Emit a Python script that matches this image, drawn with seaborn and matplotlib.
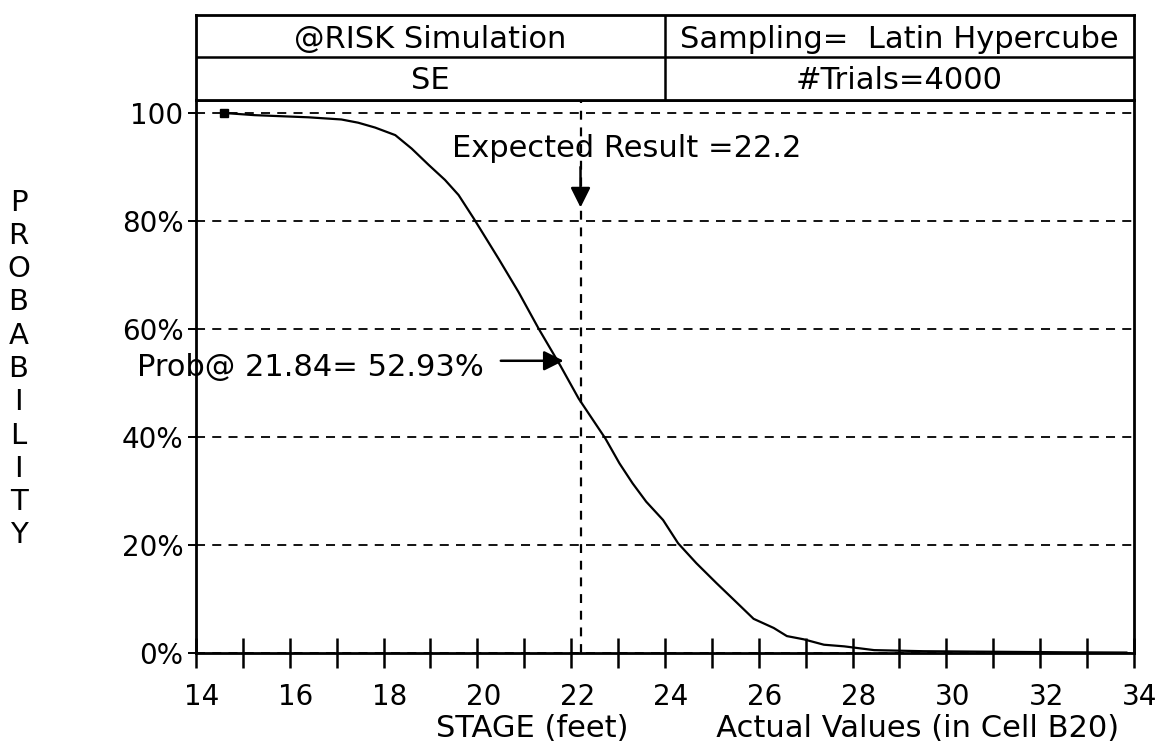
import matplotlib
matplotlib.use("Agg")
import matplotlib.pyplot as plt
import matplotlib.transforms as mtransforms
import seaborn as sns
import pandas as pd

# =============================================================================
# DATA (read off the @RISK cumulative curve)
# =============================================================================
stage = [14.6, 15.25, 16.4, 17.1, 17.46, 17.82, 18.25, 18.6, 18.96, 19.31,
         19.6, 19.92, 20.24, 20.46, 20.88, 21.31, 21.77, 22.16, 22.73, 23.03,
         23.31, 23.6, 23.96, 24.28, 24.67, 25.1, 25.46, 25.89, 26.32, 26.6,
         26.96, 27.39, 27.82, 28.46, 29.5, 31.0, 32.5, 33.85]
prob = [100, 99.6, 99.2, 98.8, 98.2, 97.3, 95.9, 93.4, 90.4, 87.6,
        84.8, 80.5, 76.0, 72.9, 66.8, 60.0, 53.2, 47.1, 39.7, 35.1,
        31.4, 28.0, 24.6, 20.3, 16.6, 12.9, 9.9, 6.3, 4.6, 3.1,
        2.5, 1.5, 1.2, 0.5, 0.3, 0.2, 0.1, 0.05]

x_ticks = list(range(14, 35))
x_labels = [str(v) if v % 2 == 0 else "" for v in x_ticks]
y_ticks = [0, 20, 40, 60, 80, 100]
y_labels = ["0%", "20%", "40%", "60%", "80%", "100"]

expected_x = 22.2
prob_x, prob_y = 21.84, 52.93

header_left = ["@RISK Simulation", "SE"]
header_right = ["Sampling=  Latin Hypercube", "#Trials=4000"]

df = pd.DataFrame({"stage": stage, "prob": prob})

# =============================================================================
# PLOT
# =============================================================================
sns.set_style("white")
plt.rcParams["font.family"] = ["DejaVu Sans"]
plt.rcParams["text.color"] = "black"
plt.rcParams["axes.labelcolor"] = "black"

TICK_SIZE = 20
TEXT_SIZE = 22

fig = plt.figure(figsize=(11.63, 7.41), dpi=100)
ax = fig.add_axes([0.1685, 0.119, 0.8065, 0.746])

sns.lineplot(data=df, x="stage", y="prob", ax=ax, color="black", linewidth=1.6)
ax.plot(stage[0], prob[0], marker="s", color="black", markersize=6)

ax.set_xlim(14, 34)
ax.set_ylim(0, 102.4)

for sp in ax.spines.values():
    sp.set_linewidth(2)
    sp.set_color("black")

ax.set_xticks(x_ticks)
ax.set_xticklabels(x_labels)
ax.tick_params(axis="x", bottom=True, direction="inout", length=22, width=1.8,
               pad=11, labelsize=TICK_SIZE, colors="black")
ax.set_yticks(y_ticks)
ax.set_yticklabels(y_labels)
ax.tick_params(axis="y", left=True, direction="out", length=6, width=1.4,
               pad=3, labelsize=TICK_SIZE, colors="black")

# plotter labels sit a little right of their ticks
shift = mtransforms.ScaledTranslation(6 / 100, 0, fig.dpi_scale_trans)
for lbl in ax.get_xticklabels():
    lbl.set_transform(lbl.get_transform() + shift)

ax.yaxis.grid(True, color="black", linestyle=(0, (5, 4)), linewidth=1.3)
ax.xaxis.grid(False)

ax.axvline(expected_x, color="black", linestyle=(0, (4, 3.5)), linewidth=1.6)

ax.set_xlabel("STAGE (feet)" + " " * 9 + "Actual Values (in Cell B20)",
              fontsize=TEXT_SIZE, labelpad=2, x=0.62)
ax.set_ylabel("")

# expected result annotation
ax.text(19.46, 93.5, f"Expected Result ={expected_x}", fontsize=TEXT_SIZE,
        ha="left", va="center")
ax.annotate("", xy=(expected_x, 82.5), xytext=(expected_x, 90),
            arrowprops=dict(arrowstyle="-|>", color="black", lw=1.8,
                            mutation_scale=30, shrinkA=0, shrinkB=0))

# probability annotation
ax.text(12.74, prob_y, f"Prob@ {prob_x}= {prob_y}%", fontsize=TEXT_SIZE,
        ha="left", va="center", clip_on=False)
ax.annotate("", xy=(prob_x, 54.1), xytext=(20.5, 54.1),
            arrowprops=dict(arrowstyle="-|>", color="black", lw=1.8,
                            mutation_scale=30, shrinkA=0, shrinkB=0))

# header table above the plot
hax = fig.add_axes([0.1685, 0.865, 0.8065, 0.115])
hax.set_xlim(0, 1)
hax.set_ylim(0, 2)
hax.set_xticks([])
hax.set_yticks([])
for sp in hax.spines.values():
    sp.set_linewidth(2)
    sp.set_color("black")
hax.axhline(1, color="black", linewidth=1.8)
hax.axvline(0.5, color="black", linewidth=1.8)
for i, (lt, rt) in enumerate(zip(header_left, header_right)):
    yy = 1.42 - i * 0.95
    hax.text(0.25, yy, lt, ha="center", va="center", fontsize=TEXT_SIZE)
    hax.text(0.75, yy, rt, ha="center", va="center", fontsize=TEXT_SIZE)

# stacked y label
fig.text(0.016, 0.502, "\n".join("PROBABILITY"), ha="center", va="center",
         fontsize=21, linespacing=1.24)

plt.savefig("out.png", dpi=100)
plt.close(fig)
